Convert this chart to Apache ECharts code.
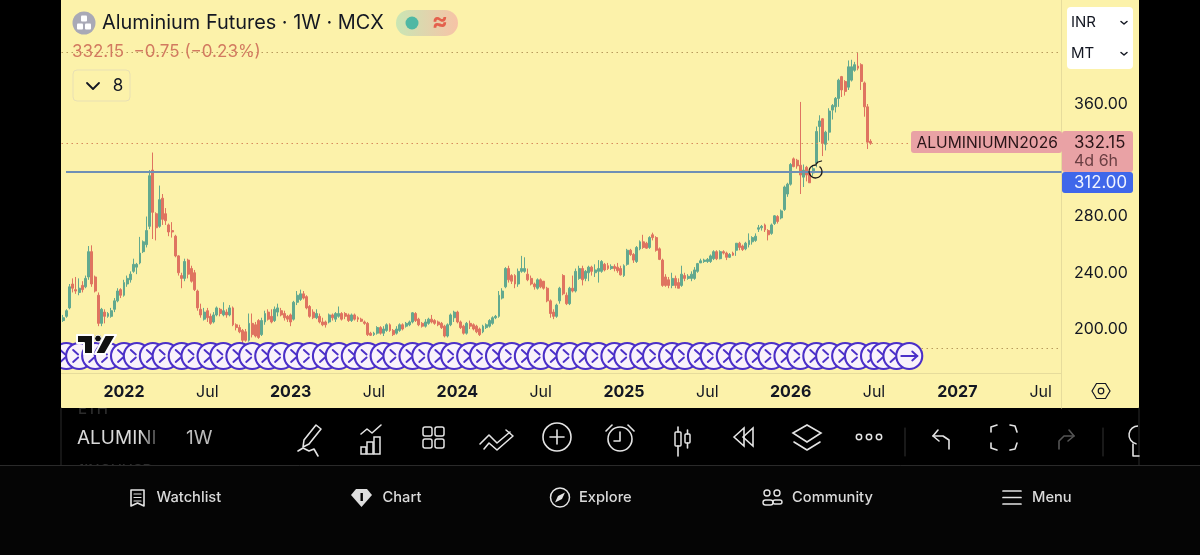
<!DOCTYPE html>
<html>
<head>
<meta charset="utf-8">
<title>Aluminium Futures · 1W · MCX</title>
<style>
html,body{margin:0;padding:0;background:#000;}
#chart{width:1200px;height:555px;}
</style>
<script src="https://cdn.jsdelivr.net/npm/echarts@6/dist/echarts.min.js"></script>
</head>
<body>
<div id="chart"></div>
<script>
// Weekly OHLC for Aluminium Futures (MCX), INR per MT, oldest first.
const firstWeek = '2021-08-23';
const weekSlots = 312;

// Time scale labels and the week slots they sit on.
const tickWeeks = [19, 45, 71, 97, 123, 149, 175, 201, 227, 253, 279, 305];
const tickLabels = ['2022', 'Jul', '2023', 'Jul', '2024', 'Jul', '2025', 'Jul', '2026', 'Jul', '2027', 'Jul'];

const opens = [
206,209,215,232,228,226,231,230,237,255,237,224,204,212,209,209,214,220,228,224,232,235,241,244,247,255,260,273,313,282,
273,293,282,274,270,266,252,238,236,249,243,240,227,214,207,213,209,205,210,214,210,212,210,215,203,201,199,198,192,204,
203,206,196,205,212,209,206,212,213,211,209,210,207,219,221,225,223,216,212,208,209,205,205,205,210,207,209,211,211,210,
206,210,208,207,205,204,197,196,197,201,197,199,203,199,197,199,203,202,203,205,211,207,204,202,204,207,206,205,204,202,
195,203,208,212,205,202,197,204,203,202,200,198,201,202,204,208,209,222,230,243,238,238,232,241,241,239,236,232,229,235,
234,229,220,212,209,220,238,224,218,229,227,236,243,236,240,244,240,241,241,246,245,243,244.5,244,243,238,246,256,253,248,
257,262,261,258,267,265,257,249,237,235,231,236,233,231,238,236,236,236,241,247,248,248,248,250,255,250,255,254,251,254,
256,261,259,257,260,262,263,271,272,274,270,268,275,280,279,285,296,303,321,320,316.5,308,315,311,311,318,344,349.5,331.4,340,
355.7,358,364,379.5,376,372,377,384,387,388,375,358,333.5
];
const closes = [
208,213,230,229,227,229,228,236,255,232,227,204,214,209,211,213,220,227,224,233,236,239,246,246,254,262,270,309,283,272,
292,278,277,269,269,252,240,236,248,239,234,228,215,210,212,208,204,210,215,211,213,210,215,203,201,198,192,192,204,196,
195,194,206,211,207,205,214,215,210,208,207,205,219,224,225,222,215,209,208,211,205,203,203,210,208,211,211,207,209,206,
210,207,207,205.5,204,196,195.5,197,201,197,200,203,199,196,200,203,200,204,205,211.5,206,203,202,205,207,205,204,203,201,195,
203,210,212,205,201,197,204,202,200,198,196,202,203,206,208,209,224,227,243,235,234,232,241,243,243,235,232,230,235,230,
229,220,211,209,217,229,225,218,229,227,241,243,235,241,244,241,242,243,248,242,243,244.5,243,241.5,238.5,245,256,253,249,258,
262,258,257.5,265,265,256,249.5,231,231,231,236,231,229,239,236,237.5,239,242,246.5,248.5,249,249.5,252,255,250,255,254,251,253,252.5,
261,258,256.5,261,263,265,266,272,273,270.5,267,274,280.5,276.5,284,301,303,317,315.5,316,309.5,313,309.5,304,314,340.5,348,332,340,355,
359,364,377,370,369,386.5,386.5,388,385.5,376,358,332.9,332.15
];
const lows = [
205,208,214,226,225,224,226,229,235,230,226,202,202,204,208,208,212,219,222,223,230,233,240,239,246,254,258,271,264,263,
272,274,274,266,265,251,238,229,234,236,233,227,213,208,206,205,203,204,209,209,209,208,209,202,199,197,186.5,191,191,194,
194,193,195,203,206,204,205,209,209,206,205,202,206,217,220,221,214,208,207,207,204,202,201,204,206,205,208,206,207,205,
205,206,205,205,203,195,195,195,196,196,195,198,198,195,196,198,199,201,202,204,205,202,201,201,203,204,203,202,200,194,
194,202,205,204,200,196,196,200,199,197,195,197,200,201,203,207,208,221,229,233,232,229,230,240,240,234,231,228,228,229,
228,219,208,207,208,218,224,217,217,226,226,235,231,234,234,238,237,233,240,241,242,242,241,240,238,237,245,252,247,247,
256,257,257,257,263,255,249,230,230,229,229,229,229,230,234,235,234,235,240,247,247,247,247,249,249,249.5,253,249,250.5,252,
252,256,255.5,256,258,260,262,269,270,269,263,267,274,275,278,284,294,302,315,314,296,301,305,304,309,315,333,323,327,334,
349,354,358,365,366,370,376,383,384,370,351,328,331
];
const highs = [
210,214,232,236,237,236,234,238,259,259.5,238,226,215,214,212,215,222,229,229,235,238,241,250,247,265.5,263,280,313,325.5,283,
302,296,286,275,276,267,252.5,240,250,250,245,242,228,218,215,215,211,212,216,215,219,214,217,216,204,203,200,200,211,211,
205,207,208,213,214,214,216,218,215,213,210,211,220,227,228,227,224,217,214,214,211,208,206,211,211,212,216,212,212,211,
211,211,209,208,206,205,198,198,202,202,202,204,204,200,202,204,204,205,206,212,212,208,205,207,208,210,207,206,205,203,
204,211,213,213,206,203,205,206,204,203,201,203,204,207,209,210,227,229,244,245,239,239,243,252,251,243,238,233,236,236,
232,230,221,214,218,230,239,226,230,238,243,245,245,242,245,245,246,249,249,247,247,246,246,247,245,246,257,257,254,259,
263,267,262,266,268.5,266,258,250,239,237,240,238,236,245,240,239,241,244,247,250,250,250.5,253,256,256,256,256,255,254,255,
261,262,260,262,268,266,268,274,274,275,271,275,281,281,285,302,304,318,322,321,361.5,317,316,312,316,344,352,350,341,357,
360,365,378,380,377,391,391.5,390,397,389,376,360,335
];

// Price levels marked across the pane.
const levelLine = 312;
const sessionHigh = 397;
const sessionLow = 186.5;
const changeAbs = -0.75;
const changePct = -0.23;

// Value axis scale: 40-point tick spacing across the price pane.
const priceMin = 168.7;
const priceMax = 434;
const priceTicks = [200, 240, 280, 320, 360];

// Repeating drawing tool along the bottom of the pane (week slot, price).
const chainWeeks = [1,5,10,14,19,23,28,32,37,41,46,50,55,59,64,68,73,77,82,86,91,95,100,104,109,113,118,122,127,131,
136,140,145,149,154,158,163,167,172,176,181,185,190,194,199,203,208,212,217,221,226,230,235,239,244,248,253,256,260,264];
const chainPrice = 180.8;

const GREEN = '#62a98f', RED = '#df7460', INK = '#131722', PANE = '#fcf2aa', RULE = '#e6dc9c';
const FONT = 'Inter, "Open Sans", sans-serif';

const categories = [];
{
  const t0 = Date.parse(firstWeek + 'T00:00:00Z');
  for (let i = 0; i < weekSlots; i++) {
    categories.push(new Date(t0 + i * 7 * 86400000).toISOString().slice(0, 10));
  }
}
const tickByWeek = {};
tickWeeks.forEach((w, i) => { tickByWeek[categories[w]] = tickLabels[i]; });

const ohlc = opens.map((o, i) => [o, closes[i], lows[i], highs[i]]);
const lastClose = closes[closes.length - 1];

function line(points, stroke, width, z) {
  return { type: 'polyline', z: z ?? 20, silent: true, shape: { points }, style: { stroke, lineWidth: width || 1.6, fill: null, lineCap: 'round', lineJoin: 'round' } };
}
function circle(cx, cy, r, style, z) {
  return { type: 'circle', z: z ?? 20, silent: true, shape: { cx, cy, r }, style };
}
function box(x, y, width, height, fill, r, z, extra) {
  return { type: 'rect', z: z ?? 20, silent: true, shape: { x, y, width, height, r: r || 0 }, style: Object.assign({ fill }, extra || {}) };
}
function label(text, x, y, font, fill, align, z) {
  return { type: 'text', z: z ?? 21, silent: true, x, y, style: { text, font: font + ' ' + FONT, fill, align: align || 'left', verticalAlign: 'middle' } };
}
const W = '#e4e4e4';
const LOGO = '#111';

const overlay = [
  // Ghost rows of the symbol list behind the toolbar, then the pane itself.
  label('ETH', 78, 409, '500 15px', '#2c2c2c', 'left', 0),
  label('1INCHUSD', 78, 470, '500 15px', '#2c2c2c', 'left', 0),
  box(0, 465, 1200, 90, '#050505', 0, 0.5),
  box(0, 0, 61, 408, '#000', 0, 0.5),
  box(1139, 0, 61, 408, '#000', 0, 0.5),
  box(61, 0, 1078, 408, PANE, 0, 1),
  // Strip behind the repeating drawing.
  box(61, 344, 850, 24, '#f9f2fb', 0, 8),
  // Page margins on top of the strip.
  box(0, 0, 61, 408, '#000', 0, 30),
  box(61, 169.5, 5, 4, PANE, 0, 9),
  line([[1061.5, 373], [1061.5, 408]], RULE, 1, 3),
  // Title block.
  circle(84, 23, 11.5, { fill: '#a9a9b6' }),
  box(81, 15.5, 6, 6, '#fff', 1, 22), box(77, 23.5, 6, 6, '#fff', 1, 22), box(85, 23.5, 6, 6, '#fff', 1, 22),
  label('Aluminium Futures · 1W · MCX', 102, 23, '400 19.9px', INK),
  { type: 'rect', z: 20, silent: true, shape: { x: 396, y: 10, width: 62, height: 26, r: 13 },
    style: { fill: new echarts.graphic.LinearGradient(0, 0, 1, 0, [{ offset: 0, color: '#c9e6b4' }, { offset: 1, color: '#f7c3a6' }]) } },
  circle(412, 23, 6.5, { fill: '#4fb8a4' }),
  label('≈', 440, 22, '700 24px', '#e4604c', 'center'),
  label(lastClose.toFixed(2) + '  \u2212' + Math.abs(changeAbs).toFixed(2) + ' (\u2212' + Math.abs(changePct).toFixed(2) + '%)', 72, 52, '400 17px', '#d27a60'),
  box(73, 70, 57, 31, PANE, 4, 20, { stroke: '#e8e0b4', lineWidth: 1 }),
  line([[87, 83], [93, 89], [99, 83]], INK, 1.8),
  label('8', 118, 86, '400 17px', INK, 'center'),
  // Currency and unit selector.
  box(1067, 7, 66, 62, '#fff', 4),
  label('INR', 1071, 22, '400 15px', INK),
  label('MT', 1071, 53, '400 15px', INK),
  line([[1121, 21.5], [1124, 24], [1127, 21.5]], INK, 1.5),
  line([[1121, 52.5], [1124, 55], [1127, 52.5]], INK, 1.5),
  // Last price and level tags.
  box(911, 131, 151, 22, '#e9a2a5', 3),
  label('ALUMINIUMN2026', 916.5, 143, '400 15.6px', '#2a1518'),
  box(1062, 131, 71, 41, '#e9a2a5', 3),
  label(lastClose.toFixed(2), 1074, 143, '400 16.8px', '#2a1518'),
  label('4d 6h', 1074, 161, '400 16px', '#6a3e42'),
  box(1062, 172, 71, 21, '#3f67ea', 3),
  label(levelLine.toFixed(2), 1074, 183, '400 16.8px', '#f2f5ff'),
  // Hand-drawn circle near the breakout.
  { type: 'arc', z: 15, silent: true, shape: { cx: 815.5, cy: 171.5, r: 6.5, startAngle: -0.9, endAngle: Math.PI * 1.55 },
    style: { stroke: '#1a1a1a', lineWidth: 1.3, fill: null } },
  line([[816, 164], [818, 162], [821.5, 161]], '#1a1a1a', 1.3, 15),
  // Watermark with a white halo.
  { type: 'polygon', z: 24, silent: true, shape: { points: [[77, 335], [93, 335], [93, 354], [84, 354], [84, 343], [77, 343]] }, style: { fill: LOGO, stroke: '#fff', lineWidth: 2, lineJoin: 'round' } },
  circle(98, 338.5, 3.4, { fill: LOGO, stroke: '#fff', lineWidth: 1 }, 24),
  { type: 'polygon', z: 24, silent: true, shape: { points: [[105, 354], [95, 354], [105, 335], [116, 335]] }, style: { fill: LOGO, stroke: '#fff', lineWidth: 2, lineJoin: 'round' } },
  // Settings hexagon on the time scale.
  { type: 'polygon', z: 20, silent: true, shape: { points: [[1092, 391], [1096.5, 383.5], [1105.5, 383.5], [1110, 391], [1105.5, 398.5], [1096.5, 398.5]] }, style: { fill: null, stroke: INK, lineWidth: 1.2 } },
  circle(1101, 391, 2.8, { fill: null, stroke: INK, lineWidth: 1.2 }),
  // Toolbar.
  line([[61, 408], [61, 465]], '#2a2a2a', 1),
  line([[1139, 408], [1139, 465]], '#2a2a2a', 1),
  line([[0, 465.5], [1200, 465.5]], '#2a2a2a', 1),
  label('ALUMINI', 77, 438, '400 19px', '#d9d9d9'),
  { type: 'rect', z: 22, silent: true, shape: { x: 140, y: 425, width: 24, height: 26 },
    style: { fill: new echarts.graphic.LinearGradient(0, 0, 1, 0, [{ offset: 0, color: 'rgba(0,0,0,0)' }, { offset: 1, color: '#000' }]) } },
  label('1W', 186, 438, '400 19px', '#bcbcbc'),
  // pen
  line([[316, 425], [321, 429], [309, 444], [303, 447], [304, 440], [316, 425]], W),
  line([[298, 451], [303, 448], [309, 451], [314, 449], [318, 456]], W),
  // chart
  line([[361, 434], [367, 429], [372, 433], [381, 425]], W),
  box(361, 447, 5, 7, null, 0, 20, { stroke: W, lineWidth: 1.5, fill: 'transparent' }),
  box(367, 442, 6, 12, null, 0, 20, { stroke: W, lineWidth: 1.5, fill: 'transparent' }),
  box(374, 437, 6, 17, null, 0, 20, { stroke: W, lineWidth: 1.5, fill: 'transparent' }),
  // grid
  box(423, 427, 9, 9, null, 2, 20, { stroke: W, lineWidth: 1.5, fill: 'transparent' }),
  box(435, 427, 9, 9, null, 2, 20, { stroke: W, lineWidth: 1.5, fill: 'transparent' }),
  box(423, 439, 9, 9, null, 2, 20, { stroke: W, lineWidth: 1.5, fill: 'transparent' }),
  box(435, 439, 9, 9, null, 2, 20, { stroke: W, lineWidth: 1.5, fill: 'transparent' }),
  // patterns
  line([[480, 444], [489, 435], [497, 443], [510, 432]], W),
  line([[484, 449], [489, 443], [497, 450], [513, 436], [506, 430]], W),
  // add
  circle(557, 437, 14, { fill: null, stroke: W, lineWidth: 1.6 }),
  line([[557, 430], [557, 444]], W), line([[550, 437], [564, 437]], W),
  // alert
  circle(620, 439, 12, { fill: null, stroke: W, lineWidth: 1.6 }),
  line([[620, 432], [620, 441], [614, 441]], W),
  line([[606, 431], [612, 425]], W), line([[628, 425], [634, 431]], W),
  // bars
  box(675, 432, 6, 14, null, 1, 20, { stroke: W, lineWidth: 1.5, fill: 'transparent' }),
  line([[678, 427], [678, 432]], W), line([[678, 446], [678, 456]], W),
  box(685, 434, 5, 9, null, 1, 20, { stroke: W, lineWidth: 1.5, fill: 'transparent' }),
  line([[687.5, 430], [687.5, 434]], W), line([[687.5, 443], [687.5, 448]], W),
  // replay
  { type: 'polygon', z: 20, silent: true, shape: { points: [[734, 437], [744, 428], [744, 446]] }, style: { fill: 'transparent', stroke: W, lineWidth: 1.6 } },
  { type: 'polygon', z: 20, silent: true, shape: { points: [[743, 437], [753, 428], [753, 446]] }, style: { fill: 'transparent', stroke: W, lineWidth: 1.6 } },
  // layers
  { type: 'polygon', z: 20, silent: true, shape: { points: [[793, 433], [807, 425], [821, 433], [807, 442]] }, style: { fill: 'transparent', stroke: W, lineWidth: 1.6 } },
  line([[794, 442], [807, 450], [820, 442]], W),
  // more
  circle(859, 437, 2.7, { fill: null, stroke: W, lineWidth: 1.5 }),
  circle(869, 437, 2.7, { fill: null, stroke: W, lineWidth: 1.5 }),
  circle(879, 437, 2.7, { fill: null, stroke: W, lineWidth: 1.5 }),
  line([[905, 428], [905, 456]], '#333', 1),
  // undo
  line([[938, 430], [933, 436], [939, 441]], W),
  line([[933, 436], [943, 436], [949, 440], [949, 449]], W),
  // fullscreen
  line([[991, 432], [991, 427], [997, 425]], W), line([[1010, 425], [1015, 426], [1017, 432]], W),
  line([[991, 443], [991, 448], [997, 450]], W), line([[1010, 450], [1015, 449], [1017, 443]], W),
  // redo
  line([[1069, 430], [1074, 436], [1068, 441]], '#555'),
  line([[1074, 436], [1064, 436], [1059, 441], [1059, 449]], '#555'),
  line([[1103, 428], [1103, 456]], '#333', 1),
  // idea bulb, cut off at the panel edge
  { type: 'arc', z: 20, silent: true, shape: { cx: 1138, cy: 435, r: 9, startAngle: Math.PI * 0.55, endAngle: Math.PI * 1.5 }, style: { stroke: W, lineWidth: 1.5, fill: null } },
  line([[1133, 444], [1133, 456], [1139, 456]], W),
  box(1140, 425, 60, 35, '#000', 0, 21),
  // Bottom navigation.
  line([[131, 490], [144, 490], [144, 506], [137.5, 503], [131, 506], [131, 490]], W),
  line([[134, 494], [141, 494]], W, 1.2), line([[134, 497.5], [141, 497.5]], W, 1.2), line([[134, 501], [141, 501]], W, 1.2),
  label('Watchlist', 156.5, 497.5, '500 14.7px', '#dadada'),
  { type: 'polygon', z: 20, silent: true, shape: { points: [[356, 489], [367, 489], [372, 495], [361.5, 507], [351, 495]] }, style: { fill: '#dedede' } },
  box(360.5, 493, 2.4, 8, '#000', 0, 21),
  label('Chart', 382.5, 497.5, '500 14.7px', '#dadada'),
  circle(560, 497.5, 9.5, { fill: null, stroke: W, lineWidth: 1.5 }),
  { type: 'polygon', z: 21, silent: true, shape: { points: [[565, 492.5], [558, 496], [555, 502.5], [562, 499]] }, style: { fill: W } },
  label('Explore', 579, 497.5, '500 14.7px', '#dadada'),
  circle(767, 493, 3, { fill: null, stroke: W, lineWidth: 1.4 }),
  circle(777, 493, 3, { fill: null, stroke: W, lineWidth: 1.4 }),
  box(763, 500, 10, 5, null, 2.5, 20, { stroke: W, lineWidth: 1.4, fill: 'transparent' }),
  box(773, 500, 9, 4, null, 2, 20, { stroke: W, lineWidth: 1.4, fill: 'transparent' }),
  label('Community', 792, 497.5, '500 14.7px', '#dadada'),
  line([[1003, 491], [1021, 491]], W, 1.7), line([[1003, 497.5], [1021, 497.5]], W, 1.7), line([[1003, 504], [1021, 504]], W, 1.7),
  label('Menu', 1032, 497.5, '500 14.7px', '#dadada')
];

const chart = echarts.init(document.getElementById('chart'), null, { renderer: 'canvas' });
chart.setOption({
  animation: false,
  backgroundColor: '#000',
  textStyle: { fontFamily: FONT },
  grid: { left: 61.5, width: 1000, top: 0, height: 373, containLabel: false },
  xAxis: {
    type: 'category',
    z: 3,
    data: categories,
    boundaryGap: true,
    axisLine: { show: true, lineStyle: { color: RULE, width: 1 } },
    axisTick: { show: false },
    splitLine: { show: false },
    axisLabel: {
      hideOverlap: false,
      margin: 11,
      interval: (i, v) => v in tickByWeek,
      formatter: v => {
        const text = tickByWeek[v];
        if (!text) return '';
        return (text === 'Jul' ? '{month|' : '{year|') + text + '}';
      },
      rich: {
        year: { fontFamily: FONT, fontWeight: 700, fontSize: 16, color: INK },
        month: { fontFamily: FONT, fontWeight: 400, fontSize: 16, color: INK }
      }
    }
  },
  yAxis: {
    type: 'value',
    z: 3,
    position: 'right',
    min: priceMin,
    max: priceMax,
    scale: true,
    axisLine: { show: true, lineStyle: { color: RULE, width: 1 } },
    axisTick: { show: false, customValues: priceTicks },
    splitLine: { show: false },
    axisLabel: {
      customValues: priceTicks,
      margin: 12.5,
      fontSize: 16,
      color: INK,
      fontFamily: FONT,
      formatter: v => v.toFixed(2)
    }
  },
  series: [
    {
      type: 'candlestick',
      data: ohlc,
      barWidth: 2.4,
      clip: true,
      itemStyle: { color: GREEN, color0: RED, borderColor: GREEN, borderColor0: RED, borderWidth: 1 },
      markLine: {
        silent: true,
        symbol: 'none',
        animation: false,
        label: { show: false },
        data: [
          { yAxis: sessionHigh, lineStyle: { type: [1.5, 3.5], color: '#b79a5c', width: 1.2 } },
          { yAxis: lastClose, lineStyle: { type: [1.5, 3.5], color: '#d68a5c', width: 1.2 } },
          { yAxis: sessionLow, lineStyle: { type: [1.5, 3.5], color: '#b79a5c', width: 1.2 } },
          { yAxis: levelLine, lineStyle: { type: 'solid', color: '#6f8fb5', width: 2 } }
        ]
      }
    },
    {
      type: 'custom',
      z: 10,
      clip: false,
      silent: true,
      data: chainWeeks.map(w => [w, chainPrice]),
      encode: { x: 0, y: 1 },
      renderItem: (params, api) => {
        const p = api.coord([api.value(0), api.value(1)]);
        const r = 13, last = params.dataIndex === chainWeeks.length - 1;
        const stroke = { stroke: '#4b2fc8', lineWidth: 1.9, fill: null, lineCap: 'round' };
        const children = [
          { type: 'circle', shape: { cx: p[0], cy: p[1], r }, style: { fill: '#f9f2fb', stroke: '#4b2fc8', lineWidth: 2.1 } }
        ];
        if (last) {
          children.push({ type: 'polyline', shape: { points: [[p[0] - 8, p[1]], [p[0] + 8, p[1]]] }, style: stroke });
          children.push({ type: 'polyline', shape: { points: [[p[0] + 3, p[1] - 4.5], [p[0] + 8, p[1]], [p[0] + 3, p[1] + 4.5]] }, style: stroke });
        } else {
          children.push({ type: 'polyline', shape: { points: [[p[0] - 6, p[1] - 6], [p[0] - 1, p[1] - 1.5]] }, style: stroke });
          children.push({ type: 'polyline', shape: { points: [[p[0] - 1, p[1] + 1.5], [p[0] - 6, p[1] + 6]] }, style: stroke });
        }
        return { type: 'group', children };
      }
    }
  ],
  graphic: { elements: overlay }
});
</script>
</body>
</html>
